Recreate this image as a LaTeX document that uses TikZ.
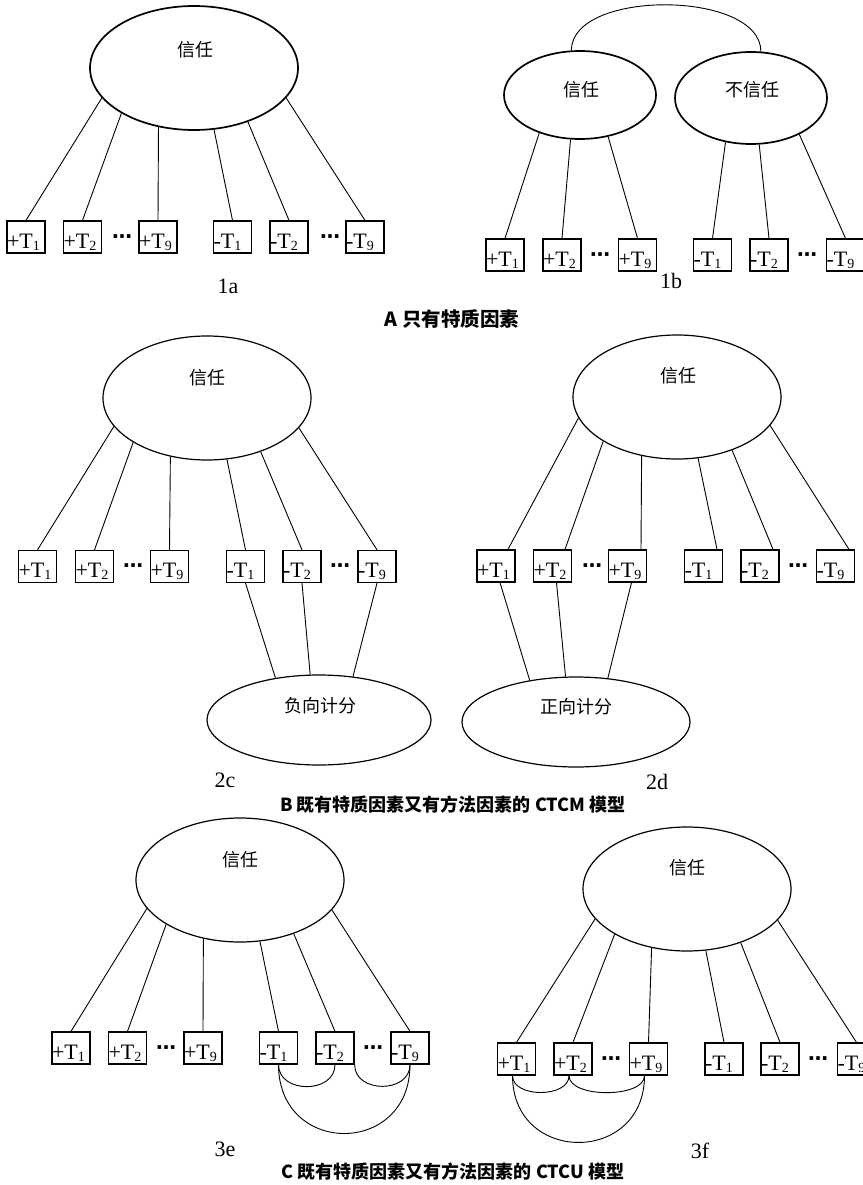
\documentclass[tikz,border=0pt]{standalone}
\usepackage{fontspec}
\setmainfont{Liberation Serif}
\newfontfamily\cjk{Noto Sans CJK SC}
\newfontfamily\dvs{DejaVu Sans}
\usetikzlibrary{shapes.geometric}
\newcommand\sbs[1]{\raisebox{-2pt}{\fontsize{14}{14}\selectfont #1}}
\tikzset{
 ell/.style={draw, ellipse, inner sep=0pt, line width=1.2pt},
 ellA/.style={ell, line width=1.7pt},
 tbox/.style={draw, rectangle, line width=1.3pt, minimum width=38pt, minimum height=32pt, inner sep=0pt, text width=38pt, align=left, text height=27pt, text depth=5pt, font=\fontsize{22}{22}\selectfont},
 lnk/.style={line width=0.9pt},
 ctext/.style={font=\cjk\fontsize{18}{18}\selectfont, inner sep=0pt},
 captxt/.style={font=\cjk\bfseries\fontsize{18}{18}\selectfont, inner sep=0pt},
 flab/.style={font=\fontsize{22}{22}\selectfont, inner sep=0pt},
 dts/.style={font=\dvs\bfseries\fontsize{20}{20}\selectfont, inner sep=0pt, yshift=-3pt},
}
\begin{document}
\begin{tikzpicture}[x=1pt,y=-1pt]
\useasboundingbox (0,0) rectangle (862,1185);
% ---------- 1a ----------
\node[ellA, minimum width=208pt, minimum height=124pt] (e1a) at (194,68) {};
\node[ctext] (t1a) at (195,50) {信任};
\node[tbox] (a1) at (26,237) {+T\sbs{1}};
\node[tbox] (a2) at (82.5,237) {+T\sbs{2}};
\node[tbox] (a3) at (158,237) {+T\sbs{9}};
\node[tbox] (a4) at (232.5,237) {-T\sbs{1}};
\node[tbox] (a5) at (289,237) {-T\sbs{2}};
\node[tbox] (a6) at (365,237) {-T\sbs{9}};
\node[dts] (ad1) at (122,236) {⋯};
\node[dts] (ad2) at (330,236) {⋯};
\draw[lnk] (e1a.198) -- (a1.north);
\draw[lnk] (e1a.212) -- (a2.north);
\draw[lnk] (e1a.239.5) -- (a3.north);
\draw[lnk] (e1a.288) -- (a4.north);
\draw[lnk] (e1a.315) -- (a5.north);
\draw[lnk] (e1a.342.5) -- (a6.north);
\node[flab] (l1a) at (228,286) {1a};
% ---------- 1b ----------
\node[ellA, minimum width=152pt, minimum height=88pt] (eL) at (580,95) {};
\node[ellA, minimum width=152pt, minimum height=92pt] (eR) at (751,98) {};
\node[ctext] (tL) at (581,90) {信任};
\node[ctext] (tR) at (752,90) {不信任};
\draw[lnk] (eL.101) to[out=90,in=90,looseness=0.83] (eR.78);
\node[tbox] (b1) at (505,255) {+T\sbs{1}};
\node[tbox] (b2) at (562,255) {+T\sbs{2}};
\node[tbox] (b3) at (637.5,255) {+T\sbs{9}};
\node[tbox] (b4) at (712.5,255) {-T\sbs{1}};
\node[tbox] (b5) at (769,255) {-T\sbs{2}};
\node[tbox] (b6) at (845.5,255) {-T\sbs{9}};
\node[dts] (bd1) at (600,254) {⋯};
\node[dts] (bd2) at (807,254) {⋯};
\draw[lnk] (eL.223.6) -- (b1.north);
\draw[lnk] (eL.258.5) -- (b2.north);
\draw[lnk] (eL.304) -- (b3.north);
\draw[lnk] (eR.240.5) -- (b4.north);
\draw[lnk] (eR.280) -- (b5.north);
\draw[lnk] (eR.323) -- (b6.north);
\node[flab] (l1b) at (671,281) {1b};
\node[captxt, font=\cjk\bfseries\fontsize{19.5}{19.5}\selectfont] (capA) at (452,319) {A 只有特质因素};
% ---------- 2c ----------
\node[ell, minimum width=208pt, minimum height=124pt] (e2c) at (207,398) {};
\node[ctext] (t2c) at (207,378) {信任};
\node[tbox] (c1) at (37.5,566.5) {+T\sbs{1}};
\node[tbox] (c2) at (94.5,566.5) {+T\sbs{2}};
\node[tbox] (c3) at (169.5,566.5) {+T\sbs{9}};
\node[tbox] (c4) at (245.5,566.5) {-T\sbs{1}};
\node[tbox] (c5) at (302,566.5) {-T\sbs{2}};
\node[tbox] (c6) at (377,566.5) {-T\sbs{9}};
\node[dts] (cd1) at (133,565) {⋯};
\node[dts] (cd2) at (340,565) {⋯};
\draw[lnk] (e2c.197.7) -- (c1.north);
\draw[lnk] (e2c.211) -- (c2.north);
\draw[lnk] (e2c.238.3) -- (c3.north);
\draw[lnk] (e2c.288.7) -- (c4.north);
\draw[lnk] (e2c.315.5) -- (c5.north);
\draw[lnk] (e2c.342.5) -- (c6.north);
\node[ell, minimum width=224pt, minimum height=90pt] (n2c) at (319,720) {};
\node[ctext] (tn2c) at (320,706) {负向计分};
\draw[lnk] (c4.south) -- (n2c.136);
\draw[lnk] (c5.south) -- (n2c.101);
\draw[lnk] (c6.south) -- (n2c.52);
\node[flab] (l2c) at (225,780) {2c};
% ---------- 2d ----------
\node[ell, minimum width=208pt, minimum height=124pt] (e2d) at (677,397) {};
\node[ctext] (t2d) at (678,376) {信任};
\node[tbox] (d1) at (496,566) {+T\sbs{1}};
\node[tbox] (d2) at (552.5,566) {+T\sbs{2}};
\node[tbox] (d3) at (627.5,566) {+T\sbs{9}};
\node[tbox] (d4) at (703.5,566) {-T\sbs{1}};
\node[tbox] (d5) at (760,566) {-T\sbs{2}};
\node[tbox] (d6) at (835.5,566) {-T\sbs{9}};
\node[dts] (dd1) at (592,565) {⋯};
\node[dts] (dd2) at (798,565) {⋯};
\draw[lnk] (e2d.192.1) -- ([xshift=12pt]d1.north);
\draw[lnk] (e2d.211.3) -- ([xshift=12.5pt]d2.north);
\draw[lnk] (e2d.239) -- ([xshift=13.5pt]d3.north);
\draw[lnk] (e2d.289) -- ([xshift=13.5pt]d4.north);
\draw[lnk] (e2d.316) -- ([xshift=13pt]d5.north);
\draw[lnk] (e2d.343.2) -- ([xshift=13.5pt]d6.north);
\node[ell, minimum width=228pt, minimum height=90pt] (p2d) at (576,722) {};
\node[ctext] (tp2d) at (576,707) {正向计分};
\draw[lnk] ([xshift=4pt]d1.south) -- (p2d.138);
\draw[lnk] ([xshift=4pt]d2.south) -- (p2d.103);
\draw[lnk] ([xshift=4pt]d3.south) -- (p2d.54);
\node[flab] (l2d) at (657,782) {2d};
\node[captxt] (capB) at (453,805) {B 既有特质因素又有方法因素的 CTCM 模型};
% ---------- 3e ----------
\node[ell, minimum width=208pt, minimum height=124pt] (e3e) at (240,880) {};
\node[ctext] (t3e) at (240,860) {信任};
\node[tbox] (f1) at (71,1048) {+T\sbs{1}};
\node[tbox] (f2) at (127.5,1048) {+T\sbs{2}};
\node[tbox] (f3) at (203,1048) {+T\sbs{9}};
\node[tbox] (f4) at (278.5,1048) {-T\sbs{1}};
\node[tbox] (f5) at (335,1048) {-T\sbs{2}};
\node[tbox] (f6) at (410,1048) {-T\sbs{9}};
\node[dts] (fd1) at (166,1047) {⋯};
\node[dts] (fd2) at (373,1047) {⋯};
\draw[lnk] (e3e.197.9) -- (f1.north);
\draw[lnk] (e3e.211.3) -- (f2.north);
\draw[lnk] (e3e.238.8) -- (f3.north);
\draw[lnk] (e3e.288.2) -- (f4.north);
\draw[lnk] (e3e.315) -- (f5.north);
\draw[lnk] (e3e.342.5) -- (f6.north);
\draw[lnk] (f4.south) to[out=-90,in=-90,looseness=1.33] (f5.south);
\draw[lnk] (f5.south east) to[out=-90,in=-90,looseness=1.34] (f6.south);
\draw[lnk] (f4.south) to[out=-90,in=-90,looseness=1.79] (f6.south);
\node[flab] (l3e) at (225,1149) {3e};
% ---------- 3f ----------
\node[ell, minimum width=208pt, minimum height=124pt] (e3f) at (687,889) {};
\node[ctext] (t3f) at (687,868) {信任};
\node[tbox] (g1) at (516.5,1059) {+T\sbs{1}};
\node[tbox] (g2) at (573,1059) {+T\sbs{2}};
\node[tbox] (g3) at (648.5,1059) {+T\sbs{9}};
\node[tbox] (g4) at (724,1059) {-T\sbs{1}};
\node[tbox] (g5) at (780,1059) {-T\sbs{2}};
\node[tbox] (g6) at (856.5,1059) {-T\sbs{9}};
\node[dts] (gd1) at (611,1058) {⋯};
\node[dts] (gd2) at (818,1058) {⋯};
\draw[lnk] (e3f.198.8) -- (g1.north);
\draw[lnk] (e3f.212) -- (g2.north);
\draw[lnk] (e3f.239.6) -- (g3.north);
\draw[lnk] (e3f.287.9) -- (g4.north);
\draw[lnk] (e3f.315.5) -- (g5.north);
\draw[lnk] (e3f.341.4) -- (g6.north);
\draw[lnk] ([xshift=-4pt]g1.south) to[out=-90,in=-90,looseness=1.02] ([xshift=-4pt]g2.south);
\draw[lnk] ([xshift=-4pt]g2.south) to[out=-90,in=-90,looseness=0.77] ([xshift=-4pt]g3.south);
\draw[lnk] ([xshift=-4pt]g1.south) to[out=-90,in=-90,looseness=1.73] ([xshift=-4pt]g3.south);
\node[flab] (l3f) at (700,1151) {3f};
\node[captxt] (capC) at (453,1172) {C 既有特质因素又有方法因素的 CTCU 模型};
\end{tikzpicture}
\end{document}
